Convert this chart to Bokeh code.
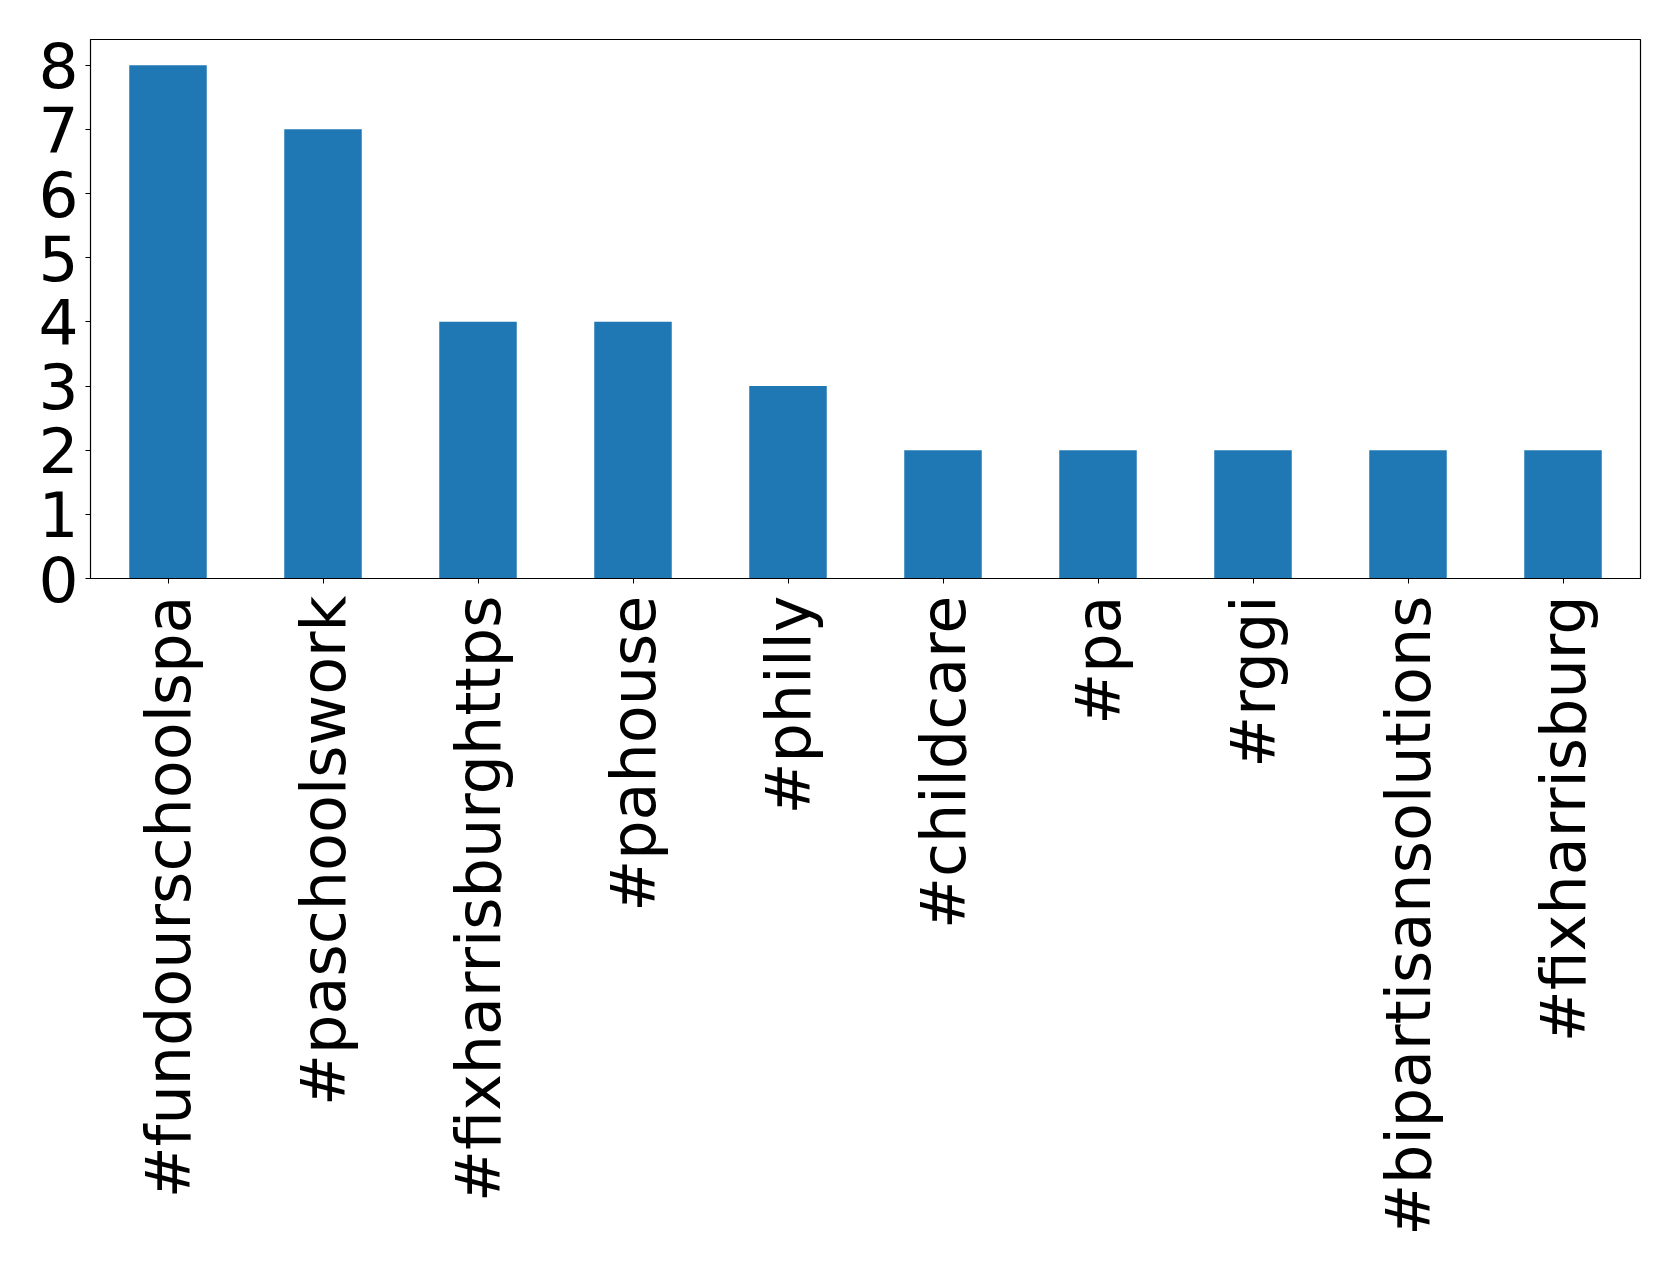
from bokeh.plotting import figure
from bokeh.embed import file_html
from bokeh.resources import INLINE
from bokeh.models import Range1d, FactorRange

categories = ["#fundourschoolspa", "#paschoolswork", "#fixharrisburghttps", "#pahouse",
              "#philly", "#childcare", "#pa", "#rggi", "#bipartisansolutions", "#fixharrisburg"]
counts = [8, 7, 4, 4, 3, 2, 2, 2, 2, 2]
y_ticks = [0, 1, 2, 3, 4, 5, 6, 7, 8]

p = figure(width=1668, height=1258, x_range=FactorRange(*categories, range_padding=0),
           y_range=Range1d(0, 8.4), output_backend="svg", toolbar_location=None,
           min_border_left=90, min_border_right=28, min_border_top=39, min_border_bottom=680)
p.x_range.factor_padding = 0
p.vbar(x=categories, top=counts, width=0.5, color="#1f77b4", line_color=None)

p.xgrid.visible = False
p.ygrid.visible = False
p.outline_line_color = "black"
p.outline_line_width = 1.2
p.background_fill_color = "white"
p.border_fill_color = "white"

font = "DejaVu Sans"
p.yaxis.ticker = y_ticks
p.yaxis.major_label_text_font = font
p.yaxis.major_label_text_font_size = "63px"
p.yaxis.major_label_text_color = "black"
p.yaxis.major_label_standoff = 7
p.yaxis.minor_tick_line_color = None
p.yaxis.major_tick_in = 0
p.yaxis.major_tick_out = 5
p.yaxis.axis_line_color = "black"

p.xaxis.major_label_orientation = 1.5707963267948966
p.xaxis.major_label_text_font = font
p.xaxis.major_label_text_font_size = "62px"
p.xaxis.major_label_text_color = "black"
p.xaxis.major_label_standoff = 12
p.xaxis.major_tick_in = 0
p.xaxis.major_tick_out = 5
p.xaxis.axis_line_color = "black"

open("out.html", "w").write(file_html(p, INLINE))
